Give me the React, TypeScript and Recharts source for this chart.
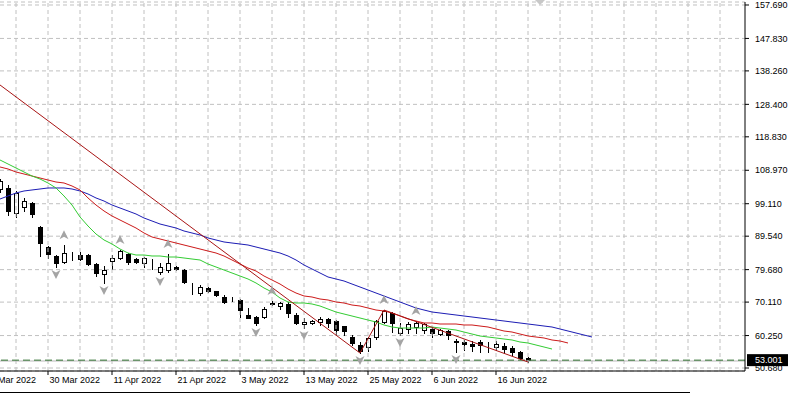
import {
  ComposedChart,
  Bar,
  Line,
  Scatter,
  XAxis,
  YAxis,
  CartesianGrid,
  ReferenceLine,
} from 'recharts';

// ── Axes ───────────────────────────────────────────────────

const dateTickIdx = [-2, 6, 14, 22, 30, 38, 46, 54, 62];
const dateTickLabels = [
  '18 Mar 2022', '30 Mar 2022', '11 Apr 2022', '21 Apr 2022', '3 May 2022',
  '13 May 2022', '25 May 2022', '6 Jun 2022', '16 Jun 2022',
];
const priceTicks = [50.68, 60.25, 70.11, 79.68, 89.54, 99.11, 108.97, 118.83, 128.4, 138.26, 147.83, 157.69];
const gridIdx = [2, 6, 10, 14, 18, 22, 26, 30, 34, 38, 42, 46, 50, 54, 58, 62, 66, 70, 74, 78, 82, 86, 90];

// ── Bougies ────────────────────────────────────────────────

const open = [
  103.4, 103.74, 96.37, 98.14, 99.32, 92.25, 86.35, 83.7, 81.93, 83.75,
  83.99, 83.99, 81.34, 78.39, 82.22, 83.11, 84.29, 82.81, 81.64, 82.85,
  78.98, 79.57, 80.46, 79.57, 74.95, 72.79, 74.26, 73.38, 71.61, 70.45,
  70.73, 66.31, 65.72, 65.72, 69.7, 68.96, 69.55, 66.31, 63.65, 63.95,
  64.24, 65.13, 64.54, 63.06, 59.82, 57.46, 56.87, 59.82, 64.24, 66.9,
  61.0, 62.18, 62.77, 61.88, 62.18, 60.7, 61.59, 58.64, 58.35, 57.76,
  58.35, 57.2, 56.87, 57.17, 56.58, 55.4, 53.63,
];
const high = [
  106.4, 104.63, 102.86, 100.8, 99.62, 92.4, 86.65, 83.99, 86.9, 84.88,
  84.88, 84.2, 81.5, 80.75, 83.99, 85.47, 84.58, 83.1, 83.4, 82.9,
  81.64, 84.29, 80.75, 79.87, 75.74, 75.15, 74.56, 73.5, 72.2, 71.61,
  71.02, 68.37, 65.9, 68.7, 70.43, 70.0, 70.14, 66.9, 65.42, 64.83,
  65.72, 65.42, 64.83, 63.2, 60.41, 58.35, 59.82, 64.83, 67.78, 67.19,
  63.95, 64.24, 64.54, 63.95, 62.47, 62.18, 61.88, 59.23, 58.93, 58.64,
  58.93, 58.35, 58.64, 58.05, 57.17, 55.69, 53.9,
];
const low = [
  102.6, 95.78, 95.19, 96.96, 95.19, 83.7, 83.11, 80.46, 81.64, 82.52,
  82.6, 81.0, 77.8, 75.74, 79.87, 82.81, 81.34, 81.6, 80.46, 79.87,
  78.39, 78.98, 79.57, 75.74, 72.5, 72.2, 73.1, 71.9, 69.84, 70.4,
  65.72, 65.3, 63.36, 65.5, 69.25, 68.07, 65.72, 63.65, 62.47, 63.65,
  63.36, 62.77, 60.41, 60.41, 57.46, 55.1, 55.69, 59.23, 63.95, 61.29,
  60.41, 61.0, 61.0, 61.0, 59.82, 60.41, 59.23, 55.4, 55.99, 55.69,
  55.4, 55.4, 55.99, 55.1, 54.5, 53.33, 52.45,
];
const close = [
  105.8, 96.96, 102.27, 99.91, 96.08, 87.53, 84.29, 81.64, 84.58, 83.65,
  82.81, 81.34, 78.69, 79.57, 83.11, 85.17, 81.93, 81.93, 83.11, 82.81,
  80.46, 81.64, 79.87, 76.03, 74.8, 74.56, 73.38, 72.2, 70.14, 70.43,
  67.78, 65.42, 63.95, 68.07, 69.55, 69.84, 66.9, 63.95, 64.24, 64.54,
  65.13, 63.95, 61.88, 61.59, 58.05, 55.69, 59.53, 64.54, 67.48, 63.95,
  62.47, 63.65, 63.95, 63.65, 61.0, 61.88, 60.41, 58.35, 57.76, 57.17,
  57.46, 57.1, 57.76, 56.28, 55.4, 53.63, 53.0,
];

// ── Alligator (mâchoire, dents, lèvres) ────────────────────

const jaw = [
  100.5, 101.39, 102.27, 102.86, 103.16, 103.45, 103.75, 103.75, 103.75, 103.45,
  102.86, 101.98, 100.8, 99.91, 98.73, 97.85, 96.97, 96.08, 94.9, 94.02,
  93.13, 92.54, 91.95, 91.07, 90.48, 89.89, 89.01, 88.42, 87.83, 87.53,
  87.24, 86.94, 86.35, 85.76, 85.17, 84.58, 83.7, 82.52, 81.05, 79.87,
  78.69, 77.51, 76.92, 76.33, 75.44, 74.56, 73.68, 72.79, 71.91, 71.02,
  70.14, 69.25, 68.37, 67.78, 67.19, 66.9, 66.6, 66.31, 66.01, 65.72,
  65.42, 65.13, 64.83, 64.54, 64.24, 63.95, 63.65, 63.36, 63.06, 62.77,
  62.18, 61.59, 61.0, 60.41, 59.82,
];
const teeth = [
  109.94, 109.35, 108.46, 107.87, 107.28, 106.69, 106.1, 105.51, 105.22, 104.34,
  103.16, 100.8, 98.73, 96.97, 95.49, 94.31, 93.13, 91.95, 90.48, 89.3,
  88.71, 88.12, 87.53, 86.94, 86.35, 85.76, 85.17, 84.58, 83.7, 82.52,
  81.34, 80.16, 79.28, 77.8, 76.62, 75.44, 73.97, 72.79, 71.91, 71.61,
  71.02, 70.73, 70.14, 69.84, 69.25, 68.96, 68.37, 67.78, 67.49, 66.9,
  66.01, 65.13, 64.54, 63.95, 63.95, 63.65, 63.65, 63.65, 63.36, 63.36,
  63.06, 62.77, 62.18, 61.59, 61.29, 60.7, 60.12, 59.82, 59.53, 58.94,
  58.64, 58.05,
];
const lips = [
  112.0, 110.82, 109.64, 108.46, 107.28, 106.4, 105.22, 103.75, 101.39, 98.73,
  95.2, 92.54, 90.18, 88.42, 87.24, 85.76, 84.58, 83.99, 83.99, 83.7,
  83.7, 83.4, 83.4, 83.11, 82.81, 82.52, 81.34, 80.46, 79.57, 78.69,
  77.8, 76.92, 75.74, 74.27, 73.09, 71.32, 70.14, 69.84, 69.84, 69.55,
  68.96, 68.07, 67.19, 66.6, 66.01, 65.42, 64.83, 64.24, 63.36, 62.77,
  62.47, 62.47, 62.47, 62.47, 62.77, 62.47, 62.18, 61.88, 61.29, 60.7,
  60.12, 59.82, 59.53, 59.23, 58.94, 58.35, 58.05, 57.46, 56.87, 56.28,
];

// ── ZigZag et fractales ────────────────────────────────────

const zigzagIdx = [0, 45, 48, 66];
const zigzagVal = [134.11, 55.1, 67.78, 52.45];
const upFractals = [8, 15, 21, 34, 48, 52];
const downFractals = [7, 13, 20, 32, 38, 45, 50, 57];

const lastPrice = 53.001;
const askPrice = 52.75;
const slots = 94;

// ── Table ──────────────────────────────────────────────────

const rows = Array.from({ length: slots }, (_, i) => ({
  i,
  o: open[i],
  h: high[i],
  l: low[i],
  c: close[i],
  jaw: jaw[i] ?? null,
  teeth: teeth[i] ?? null,
  lips: lips[i] ?? null,
  zz: zigzagIdx.includes(i) ? zigzagVal[zigzagIdx.indexOf(i)] : null,
}));
const upData = upFractals.map((i) => ({ i, v: high[i] }));
const downData = downFractals.map((i) => ({ i, v: low[i] }));

const FONT = '"Liberation Sans", Arial, sans-serif';
const GRID = '#c0c0c0';

// ── Formes ─────────────────────────────────────────────────

function Candle(props: any) {
  const { x, y, width, height, payload } = props;
  if (!payload || payload.h == null || !isFinite(y) || !isFinite(height)) return <g />;
  const { o, h, l, c } = payload;
  const k = h > l ? height / (h - l) : 0;
  const yO = y + (h - o) * k;
  const yC = y + (h - c) * k;
  const cx = Math.round(x + width / 2) + 0.5;
  const top = Math.round(Math.min(yO, yC)) + 0.5;
  const bot = Math.round(Math.max(yO, yC)) + 0.5;
  return (
    <g>
      <line x1={cx} x2={cx} y1={Math.round(y)} y2={Math.round(y + height) + 1} stroke="#000" />
      <rect
        x={cx - 2}
        y={top}
        width={4}
        height={Math.max(bot - top, 0)}
        fill={c >= o ? '#fff' : '#000'}
        stroke="#000"
      />
    </g>
  );
}

function UpArrow({ cx, cy }: any) {
  const x = cx, y = cy - 10;
  return (
    <path
      d={`M${x} ${y - 5} L${x + 4.5} ${y + 4} L${x} ${y + 1.5} L${x - 4.5} ${y + 4} Z`}
      fill="#a4a4a4"
    />
  );
}

function DownArrow({ cx, cy }: any) {
  const x = cx, y = cy + 7;
  return (
    <path
      d={`M${x} ${y + 5} L${x + 4.5} ${y - 4} L${x} ${y - 1.5} L${x - 4.5} ${y - 4} Z`}
      fill="#a4a4a4"
    />
  );
}

function DateTick({ x, y, payload }: any) {
  const k = dateTickIdx.indexOf(payload.value);
  return (
    <text x={x + 1.5} y={y} dy="0.71em" fontSize={9} fontFamily={FONT} fill="#000" textAnchor="start">
      {dateTickLabels[k]}
    </text>
  );
}

function PriceTick({ x, y, payload }: any) {
  return (
    <text x={x} y={y} dy="0.355em" fontSize={9} fontFamily={FONT} fill="#000" textAnchor="start">
      {Number(payload.value).toFixed(3)}
    </text>
  );
}

function PriceTag({ viewBox }: any) {
  if (!viewBox) return <g />;
  const right = viewBox.x + viewBox.width;
  return (
    <g>
      <rect x={right + 2} y={viewBox.y - 6} width={43} height={12} fill="#000" />
      <text x={right + 10} y={viewBox.y} dy="0.355em" fontSize={9} fontFamily={FONT} fill="#fff">
        {lastPrice.toFixed(3)}
      </text>
    </g>
  );
}

// ── Composant ──────────────────────────────────────────────

export default function App() {
  return (
    <div style={{ position: 'absolute', left: 0, top: 0, width: 788, height: 397, background: '#fff', overflow: 'hidden' }}>
      <ComposedChart width={788} height={397} data={rows} margin={{ top: 2, right: 0, bottom: 0, left: 0 }}>
        <CartesianGrid vertical={false} stroke={GRID} strokeDasharray="4 3" />
        {gridIdx.map((g) => (
          <ReferenceLine key={g} x={g} stroke={GRID} strokeDasharray="4 3" />
        ))}
        <XAxis
          xAxisId="top"
          orientation="top"
          type="number"
          domain={[0, 93.125]}
          allowDataOverflow
          height={0}
          tick={false}
          tickLine={false}
          axisLine={{ stroke: '#000' }}
        />
        <XAxis
          type="number"
          dataKey="i"
          domain={[0, 93.125]}
          allowDataOverflow
          ticks={dateTickIdx}
          interval={0}
          height={26}
          tickSize={4}
          tickMargin={2}
          tick={<DateTick />}
          tickLine={{ stroke: '#000' }}
          axisLine={{ stroke: '#000' }}
        />
        <YAxis
          orientation="right"
          type="number"
          domain={[49.8, 158.57]}
          allowDataOverflow
          ticks={priceTicks}
          interval={0}
          width={43}
          tickSize={4}
          tickMargin={6}
          tick={<PriceTick />}
          tickLine={{ stroke: '#000' }}
          axisLine={{ stroke: '#000' }}
        />
        <ReferenceLine y={askPrice} stroke="#b8b8b8" />
        <ReferenceLine y={lastPrice} stroke="#2d6e2d" strokeDasharray="7 4" label={<PriceTag />} />
        <Bar
          dataKey={(d: any) => (d.h == null ? null : [d.l, d.h])}
          barSize={5}
          shape={<Candle />}
          isAnimationActive={false}
        />
        <Line dataKey="jaw" stroke="#1c1cb4" strokeWidth={1} dot={false} activeDot={false} isAnimationActive={false} />
        <Line dataKey="teeth" stroke="#cc1a1a" strokeWidth={1} dot={false} activeDot={false} isAnimationActive={false} />
        <Line dataKey="lips" stroke="#33cc33" strokeWidth={1} dot={false} activeDot={false} isAnimationActive={false} />
        <Line dataKey="zz" connectNulls stroke="#a81414" strokeWidth={1} dot={false} activeDot={false} isAnimationActive={false} />
        <Scatter data={upData} dataKey="v" shape={<UpArrow />} isAnimationActive={false} />
        <Scatter data={downData} dataKey="v" shape={<DownArrow />} isAnimationActive={false} />
      </ComposedChart>
      <svg width={788} height={397} style={{ position: 'absolute', left: 0, top: 0, pointerEvents: 'none' }}>
        <polygon points="535,0 545,0 540,5" fill="#c8c8c8" />
        <line x1={0} x2={690} y1={392.5} y2={392.5} stroke="#000" />
      </svg>
    </div>
  );
}
